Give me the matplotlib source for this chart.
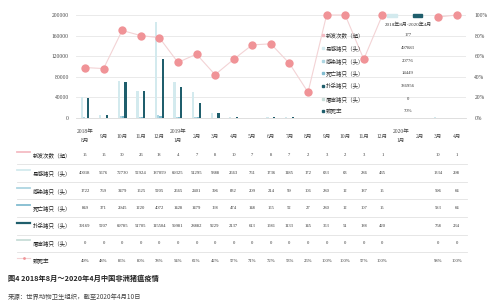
import numpy as np
import matplotlib
matplotlib.use("Agg")
import matplotlib.pyplot as plt
from matplotlib.transforms import blended_transform_factory
from matplotlib.lines import Line2D
from matplotlib.patches import Rectangle

plt.rcParams['font.family'] = ['Liberation Serif', 'Noto Sans CJK SC', 'DejaVu Sans']

# ---- data ----
months = ["2018年\n8月", "9月", "10月", "11月", "12月", "2019年\n1月", "2月", "3月", "4月", "5月",
          "6月", "7月", "8月", "9月", "10月", "11月", "12月", "2020年\n1月", "2月", "3月", "4月"]
nan = np.nan
outbreaks = [15, 15, 30, 26, 18, 4, 7, 8, 10, 7, 8, 7, 2, 3, 2, 3, 1, nan, nan, 10, 1]
susceptible = [40018, 5576, 72730, 52924, 187059, 69325, 51295, 9388, 2663, 761, 1736, 1185,
               172, 633, 63, 286, 435, nan, nan, 1334, 298]
infected = [1722, 769, 3479, 1525, 5205, 2665, 2401, 396, 832, 209, 214, 99,
            106, 280, 12, 187, 15, nan, nan, 596, 64]
dead = [849, 371, 2945, 1220, 4072, 1428, 1479, 168, 474, 148, 155, 52,
        27, 280, 12, 107, 15, nan, nan, 583, 64]
culled = [39169, 5207, 69785, 51705, 115504, 59981, 28882, 9229, 2137, 613, 1581, 1133,
          145, 353, 51, 188, 420, nan, nan, 758, 234]
slaughtered = [0, 0, 0, 0, 0, 0, 0, 0, 0, 0, 0, 0, 0, 0, 0, 0, 0, nan, nan, 0, 0]
fatality = [49, 48, 85, 80, 78, 54, 62, 42, 57, 71, 72, 53, 25, 100, 100, 57, 100, nan, nan, 98, 100]

series_names = ["新发次数（起）", "易感猪只（头）", "感染猪只（头）", "死亡猪只（头）", "扑杀猪只（头）", "屠宰猪只（头）"]
series_vals = [outbreaks, susceptible, infected, dead, culled, slaughtered]
series_colors = ["#F4BCC4", "#D3EAEE", "#AED6E2", "#82BCD0", "#1F5E6C", "#C8DDD8"]
rate_name = "致死率"
totals = ["177", "497883", "20776", "14449", "386956", "0", "70%"]
period = "2018年8月-2020年4月"

W, H = 500, 308
fig = plt.figure(figsize=(W / 100, H / 100), dpi=100)
fx = lambda x: x / W
fy = lambda y: 1 - y / H

ax = fig.add_axes([fx(75.7), fy(118), fx(466 - 75.7), (118 - 15) / H])
x = np.arange(len(months))
w = 0.12
for i, (vals, c) in enumerate(zip(series_vals, series_colors)):
    ax.bar(x + (i - 2.5) * w, np.nan_to_num(vals), width=w, color=c, zorder=2)

ax.set_xlim(-0.5, len(months) - 0.5)
ax.set_ylim(0, 200000)
ax.set_yticks(np.arange(0, 200001, 40000))
ax.yaxis.grid(True, color="#E6E6E6", linewidth=0.6, zorder=0)
ax.set_axisbelow(True)
for s in ["left", "right", "top"]:
    ax.spines[s].set_visible(False)
ax.spines["bottom"].set_color("#D9D9D9")
ax.spines["bottom"].set_linewidth(0.6)
ax.tick_params(axis="y", length=0, labelsize=4, labelcolor="#444", pad=5)
ax.set_xticks(x)
ax.set_xticklabels(months, fontsize=4, color="#444", linespacing=2.2)
ax.tick_params(axis="x", length=0, pad=13)
for lbl in ax.get_xticklabels():
    lbl.set_verticalalignment("center")

ax2 = ax.twinx()
ax2.set_ylim(0, 100)
ax2.set_yticks(np.arange(0, 101, 20))
ax2.set_yticklabels([f"{v}%" for v in range(0, 101, 20)])
ax2.tick_params(axis="y", length=0, labelsize=4, labelcolor="#444", pad=6)
for s in ax2.spines.values():
    s.set_visible(False)
ax2.plot(x, fatality, color="#F3D3D5", linewidth=0.8, zorder=3, clip_on=False)
ax2.plot(x, fatality, "o", color="#F09397", markersize=6, markeredgewidth=0,
         zorder=4, clip_on=False)

# ---- summary overlay inside the chart ----
ax2.add_patch(Rectangle((fx(387), fy(17)), fx(10), 3.5 / H, transform=fig.transFigure,
                        color=series_colors[1], clip_on=False))
ax2.add_patch(Rectangle((fx(413), fy(17)), fx(9), 3.5 / H, transform=fig.transFigure,
                        color=series_colors[4], clip_on=False))
fig.text(fx(408), fy(25), period, fontsize=3.6, color="#333", ha="center", va="center")
ov_rows = [35, 48, 61, 73, 86, 99, 111]
ov_colors = series_colors + ["#1F5E6C"]
for yy, name, tot, c in zip(ov_rows, series_names + [rate_name], totals, ov_colors):
    fig.patches.append(Rectangle((fx(321.5), fy(yy + 1.2)), 2.4 / W, 2.4 / H,
                                 transform=fig.transFigure, color=c))
    fig.text(fx(326), fy(yy), name, fontsize=4, color="#333", va="center")
    fig.text(fx(408), fy(yy), tot, fontsize=3.4, color="#333", ha="center", va="center")

# ---- data table under the chart ----
trans = blended_transform_factory(ax.transData, fig.transFigure)
row_y = [155, 173, 191, 208, 226, 243, 261]
sep_y = [164, 182, 199, 217, 235, 252]
for sy in sep_y:
    fig.add_artist(Line2D([fx(17), fx(467)], [fy(sy), fy(sy)], color="#E2E2E2", linewidth=0.6))

rows = series_vals + [fatality]
labels = series_names + [rate_name]
for r, (vals, name, yy) in enumerate(zip(rows, labels, row_y)):
    if r < 6:
        fig.add_artist(Line2D([fx(17), fx(30)], [fy(yy - 3), fy(yy - 3)],
                              color=series_colors[r], linewidth=1.6 if r == 4 else 1.3))
    else:
        fig.add_artist(Line2D([fx(17), fx(30)], [fy(yy - 3), fy(yy - 3)],
                              color="#F3D3D5", linewidth=0.8))
        fig.add_artist(Line2D([fx(23.5)], [fy(yy - 3)], marker="o", markersize=2,
                              color="#F09397", markeredgewidth=0))
    fig.text(fx(33), fy(yy), name, fontsize=4, color="#222", va="center")
    for i, v in enumerate(vals):
        if np.isnan(v):
            continue
        s = f"{int(v)}%" if r == 6 else f"{int(v)}"
        ax.text(i, fy(yy), s, transform=trans, fontsize=3.3, color="#333",
                ha="center", va="center", clip_on=False)

fig.text(fx(8), fy(278), "图4 2018年8月～2020年4月中国非洲猪瘟疫情", fontsize=5.2,
         fontweight="bold", color="#222", va="center",
         family=["Noto Sans CJK SC", "DejaVu Sans"])
fig.text(fx(8), fy(297), "来源：世界动物卫生组织，截至2020年4月10日", fontsize=4.6,
         color="#444", va="center", family=["Noto Sans CJK SC", "DejaVu Sans"])

fig.savefig("out.png", dpi=100)
